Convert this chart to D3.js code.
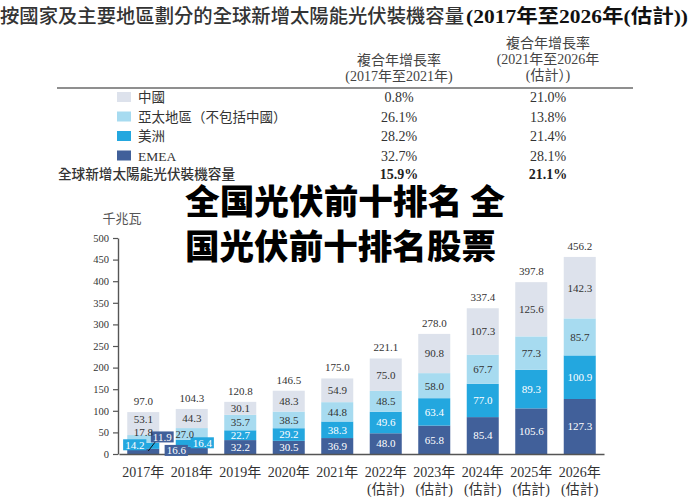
<!DOCTYPE html>
<html><head><meta charset="utf-8">
<script src="https://cdn.jsdelivr.net/npm/d3@7/dist/d3.min.js"></script>
<style>body{margin:0;background:#fff} svg{display:block}</style>
</head><body><svg id="c" width="692" height="498"></svg>
<script>
// ---------- data ----------
const years = ["2017年","2018年","2019年","2020年","2021年","2022年","2023年","2024年","2025年","2026年"];
const estimated = [false,false,false,false,false,true,true,true,true,true];
const seriesKeys = ["emea","americas","apac","china"];
const seriesNames = ["EMEA","美洲","亞太地區（不包括中國）","中國"];
const emea     = [11.9,16.6,32.2,30.5,36.9,48.0,65.8,85.4,105.6,127.3];
const americas = [14.2,16.4,22.7,29.2,38.3,49.6,63.4,77.0,89.3,100.9];
const apac     = [17.8,27.0,35.7,38.5,44.8,48.5,58.0,67.7,77.3,85.7];
const china    = [53.1,44.3,30.1,48.3,54.9,75.0,90.8,107.3,125.6,142.3];
const totals   = [97.0,104.3,120.8,146.5,175.0,221.1,278.0,337.4,397.8,456.2];
const legendNames = ["中國","亞太地區（不包括中國）","美洲","EMEA"];
const cagr1721 = ["0.8%","26.1%","28.2%","32.7%"];
const cagr2126 = ["21.0%","13.8%","21.4%","28.1%"];
const totalName = "全球新增太陽能光伏裝機容量";
const totalCagr1721 = "15.9%";
const totalCagr2126 = "21.1%";
const yTicks = [0,50,100,150,200,250,300,350,400,450,500];

// ---------- styles ----------
const colors = {china:"#dde2ec", apac:"#a7dbf0", americas:"#23a7df", emea:"#41609a"};
const legendKeys = ["china","apac","americas","emea"];
const textOn = {china:"#333", apac:"#333", americas:"#fff", emea:"#fff"};
const cjk = "'Noto Sans CJK TC','Noto Sans CJK SC',sans-serif";
const serif = "'Liberation Serif','Noto Sans CJK TC',serif";

const svg = d3.select("#c");
svg.append("rect").attr("width",692).attr("height",498).attr("fill","#fff");

// ---------- title ----------
svg.append("text").attr("x",0).attr("y",23)
  .attr("font-family",cjk).attr("font-size",19.5).attr("font-weight",500).attr("fill","#333")
  .attr("textLength",464).attr("lengthAdjust","spacingAndGlyphs")
  .text("按國家及主要地區劃分的全球新增太陽能光伏裝機容量");
svg.append("text").attr("x",466).attr("y",23)
  .attr("font-family",serif).attr("font-size",19.5).attr("font-weight",700).attr("fill","#111")
  .attr("textLength",222).attr("lengthAdjust","spacingAndGlyphs")
  .text("(2017年至2026年(估計))");

// ---------- table ----------
const col1X = 399, col2X = 548;
const head1 = ["複合年增長率","(2017年至2021年)"];
const head2 = ["複合年增長率","(2021年至2026年","(估計）)"];
head1.forEach((t,i)=>svg.append("text").attr("x",col1X).attr("y",65+i*16)
  .attr("text-anchor","middle").attr("font-family",serif).attr("font-size",14).attr("fill","#444").text(t));
head2.forEach((t,i)=>svg.append("text").attr("x",col2X).attr("y",48+i*16)
  .attr("text-anchor","middle").attr("font-family",serif).attr("font-size",14).attr("fill","#444").text(t));
svg.append("line").attr("x1",57).attr("x2",633).attr("y1",88).attr("y2",88)
  .attr("stroke","#6a6a6a").attr("stroke-width",1.5);

const rowY = i => 102 + i*19.5;
legendNames.forEach((n,i)=>{
  const k = legendKeys[i];
  svg.append("rect").attr("x",117).attr("y",rowY(i)-10).attr("width",14).attr("height",10).attr("fill",colors[k]);
  svg.append("text").attr("x",138).attr("y",rowY(i)).attr("font-family",serif).attr("font-size",13.5)
    .attr("fill","#333").text(n);
  svg.append("text").attr("x",col1X).attr("y",rowY(i)).attr("text-anchor","middle")
    .attr("font-family",serif).attr("font-size",14).attr("fill","#333").text(cagr1721[i]);
  svg.append("text").attr("x",col2X).attr("y",rowY(i)).attr("text-anchor","middle")
    .attr("font-family",serif).attr("font-size",14).attr("fill","#333").text(cagr2126[i]);
});
svg.append("text").attr("x",58).attr("y",178.5).attr("font-family",cjk).attr("font-size",13.5)
  .attr("font-weight",500).attr("fill","#333").attr("textLength",177).attr("lengthAdjust","spacingAndGlyphs").text(totalName);
svg.append("text").attr("x",col1X).attr("y",178.5).attr("text-anchor","middle")
  .attr("font-family",serif).attr("font-size",14).attr("font-weight",700).attr("fill","#222").text(totalCagr1721);
svg.append("text").attr("x",col2X).attr("y",178.5).attr("text-anchor","middle")
  .attr("font-family",serif).attr("font-size",14).attr("font-weight",700).attr("fill","#222").text(totalCagr2126);

// ---------- chart ----------
const x = d3.scaleBand().domain(years).range([119,604]).paddingInner(0.34).paddingOuter(0.17);
const y = d3.scaleLinear().domain([0,500]).range([454,238]);

const rows = years.map((yr,i)=>({year:yr, emea:emea[i], americas:americas[i], apac:apac[i], china:china[i]}));
const stacked = d3.stack().keys(seriesKeys)(rows);

const gBars = svg.append("g");
stacked.forEach(s=>{
  gBars.selectAll(null).data(s).enter().append("rect")
    .attr("x",d=>x(d.data.year)).attr("width",x.bandwidth())
    .attr("y",d=>y(d[1])).attr("height",d=>y(d[0])-y(d[1]))
    .attr("fill",colors[s.key]);
});

// axes
const yAxis = d3.axisLeft(y).tickValues(yTicks).tickSize(5).tickSizeOuter(0).tickPadding(4);
const gy = svg.append("g").attr("transform","translate(118,0)").call(yAxis);
gy.select(".domain").attr("stroke","#555").attr("stroke-width",1.4);
gy.selectAll(".tick line").attr("stroke","#555").attr("stroke-width",1.2);
gy.selectAll(".tick text").attr("font-family",serif).attr("font-size",10.5).attr("fill","#333");

const xAxis = d3.axisBottom(x).tickSize(0).tickFormat("");
const gx = svg.append("g").attr("transform","translate(0,454)").call(xAxis);
gx.select(".domain").attr("stroke","#555").attr("stroke-width",1.4);
gx.selectAll(".tick").each(function(d,i){
  const t = d3.select(this);
  t.append("text").attr("y",23).attr("text-anchor","middle").attr("font-family",serif)
    .attr("font-size",14).attr("fill","#333").text(d);
  if (estimated[i]) t.append("text").attr("y",40).attr("text-anchor","middle").attr("font-family",serif)
    .attr("font-size",14).attr("fill","#333").text("(估計)");
});

svg.append("text").attr("x",122).attr("y",223).attr("text-anchor","middle")
  .attr("font-family",cjk).attr("font-size",13).attr("fill","#555").text("千兆瓦");

// segment labels (with a few offset callouts for small segments)
const callouts = {
  "0|americas":{dx:-8.5,dy:-1,box:true},
  "0|emea":{dx:19,dy:-14.5,box:true,leader:true},
  "0|apac":{dx:0,dy:-7},
  "0|china":{dx:0,dy:-4.5},
  "1|emea":{dx:-15.5,dy:0,box:true},
  "1|americas":{dx:10.5,dy:-0.5,box:true},
  "1|apac":{dx:-7,dy:0,size:10.5}
};
const gCall = svg.append("g");
const gLab = svg.append("g");
stacked.forEach(s=>{
  s.forEach((d,i)=>{
    const cx = x(d.data.year)+x.bandwidth()/2;
    const cy = (y(d[0])+y(d[1]))/2;
    const c = callouts[i+"|"+s.key] || {dx:0,dy:0};
    const lx = cx+c.dx, ly = cy+c.dy;
    const val = d.data[s.key].toFixed(1);
    if (c.box){
      if (c.leader){
        gCall.append("line").attr("x1",cx+5).attr("y1",y(0)-3).attr("x2",lx-7).attr("y2",ly+5)
          .attr("stroke","#111").attr("stroke-width",1);
      }
      const r = gCall.append("rect").attr("fill",colors[s.key]);
      const t = gCall.append("text").attr("x",lx).attr("y",ly).attr("dy","0.35em").attr("text-anchor","middle")
        .attr("font-family",serif).attr("font-size",11).attr("fill",textOn[s.key]).text(val);
      const w = t.node().getComputedTextLength()+4;
      r.attr("x",lx-w/2).attr("y",ly-5.5).attr("width",w).attr("height",11);
    } else {
      gLab.append("text").attr("x",lx).attr("y",ly).attr("dy","0.35em").attr("text-anchor","middle")
        .attr("font-family",serif).attr("font-size",c.size||11).attr("fill",textOn[s.key]).text(val);
    }
  });
});
// totals
svg.append("g").selectAll("text").data(years).enter().append("text")
  .attr("x",d=>x(d)+x.bandwidth()/2).attr("y",(d,i)=>y(d3.sum(seriesKeys,k=>rows[i][k]))-7)
  .attr("text-anchor","middle").attr("font-family",serif).attr("font-size",11).attr("fill","#333")
  .text((d,i)=>totals[i].toFixed(1));

// ---------- overlay headline ----------
svg.append("rect").attr("x",180).attr("y",181).attr("width",332).attr("height",82).attr("fill","#fff");
const wm = ["全国光伏前十排名 全","国光伏前十排名股票"];
wm.forEach((t,i)=>svg.append("text").attr("x",185).attr("y",199.5+i*45).attr("dominant-baseline","central")
  .attr("font-family","'Noto Sans CJK SC',sans-serif").attr("font-weight",900).attr("font-size",34)
  .attr("fill","#000").attr("textLength",i===0?320:311).attr("lengthAdjust","spacingAndGlyphs").text(t));
</script></body></html>
